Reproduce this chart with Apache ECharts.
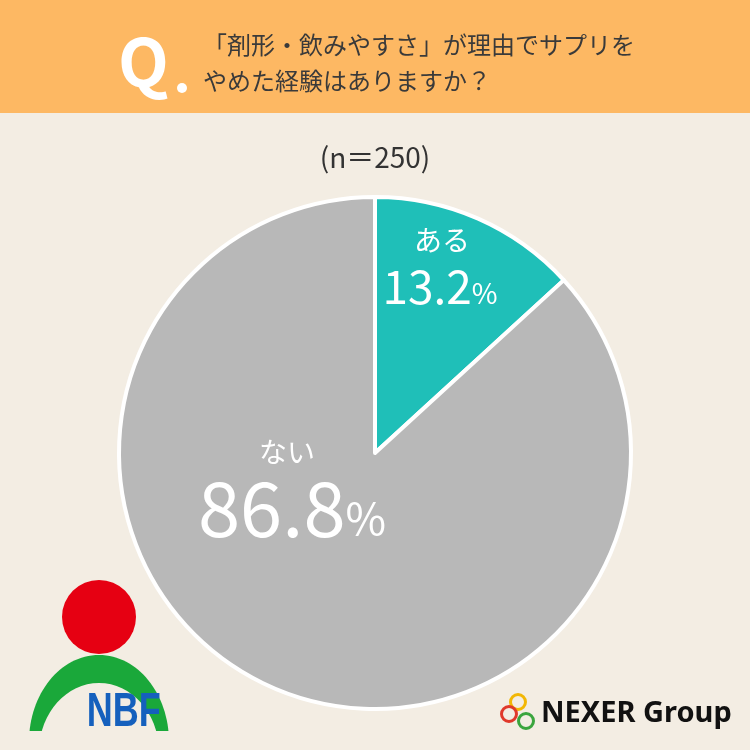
<!DOCTYPE html>
<html><head><meta charset="utf-8">
<script src="https://cdn.jsdelivr.net/npm/echarts@6/dist/echarts.min.js"></script>
<style>html,body{margin:0;padding:0;background:#f3ede3}#c{width:750px;height:750px}</style>
</head><body><div id="c"></div>
<script>
var names = ['ある', 'ない'];
var values = [13.2, 86.8];
var colors = ['#1fbfb8', '#b8b8b8'];

var chart = echarts.init(document.getElementById('c'));
var font = '"Noto Sans CJK JP", "Noto Sans", sans-serif';

var option = {
    backgroundColor: '#f3ede3',
    animation: false,
    series: [{
        type: 'pie',
        center: [375, 453],
        radius: [0, 256],
        startAngle: 90,
        clockwise: true,
        silent: true,
        itemStyle: {borderColor: '#ffffff', borderWidth: 4},
        label: {show: false},
        labelLine: {show: false},
        data: names.map(function (n, i) {
            return {name: n, value: values[i], itemStyle: {color: colors[i]}};
        })
    }],
    graphic: [
        {type: 'rect', shape: {x: 0, y: 0, width: 750, height: 113}, style: {fill: '#fdb863'}},
        {type: 'text', x: 118, y: 62, style: {text: 'Q', fill: '#fff', font: 'bold 66px ' + font, verticalAlign: 'middle'}},
        {type: 'circle', shape: {cx: 182, cy: 88, r: 5}, style: {fill: '#fff'}},
        {type: 'text', x: 203, y: 45, style: {text: '「剤形・飲みやすさ」が理由でサプリを', fill: '#3a3a3a', font: '24px ' + font, verticalAlign: 'middle'}},
        {type: 'text', x: 203, y: 81, style: {text: 'やめた経験はありますか？', fill: '#3a3a3a', font: '24px ' + font, verticalAlign: 'middle'}},
        {type: 'text', x: 375, y: 157, style: {text: '(n＝250)', fill: '#333', font: '28px ' + font, align: 'center', verticalAlign: 'middle'}},
        {type: 'text', x: 442, y: 240, z: 10, style: {text: names[0], fill: '#fff', font: '28px ' + font, align: 'center', verticalAlign: 'middle'}},
        {type: 'text', x: 440, y: 287, z: 10, style: {
            text: '{a|' + values[0].toFixed(1) + '}{b|%}', align: 'center', verticalAlign: 'middle',
            rich: {a: {fill: '#fff', font: '46px ' + font}, b: {fill: '#fff', font: '28px ' + font, padding: [12, 0, 0, 0]}}
        }},
        {type: 'text', x: 287, y: 452, z: 10, style: {text: names[1], fill: '#fff', font: '28px ' + font, align: 'center', verticalAlign: 'middle'}},
        {type: 'text', x: 292, y: 508, z: 10, style: {
            text: '{a|' + values[1].toFixed(1) + '}{b|%}', align: 'center', verticalAlign: 'middle',
            rich: {a: {fill: '#fff', font: '76px ' + font}, b: {fill: '#fff', font: '44px ' + font, padding: [20, 0, 0, 0]}}
        }},
        // NBF logo
        {type: 'ellipse', shape: {cx: 99, cy: 742, rx: 70, ry: 87}, style: {fill: '#1aa83a'}},
        {type: 'ellipse', shape: {cx: 99, cy: 752, rx: 60, ry: 69}, style: {fill: '#f3ede3'}},
        {type: 'rect', shape: {x: 20, y: 731, width: 160, height: 20}, style: {fill: '#f3ede3'}},
        {type: 'circle', shape: {cx: 99, cy: 617, r: 37}, style: {fill: '#e60012'}},
        {type: 'text', x: 99, y: 713, scaleX: 0.75, originX: 99, style: {text: 'NBF', fill: '#1560bd', font: '900 48px "Liberation Sans", sans-serif', align: 'center', verticalAlign: 'middle'}},
        // NEXER logo
        {type: 'ring', shape: {cx: 518, cy: 702, r: 9, r0: 6}, style: {fill: '#f2b705'}},
        {type: 'ring', shape: {cx: 509, cy: 714, r: 9, r0: 6}, style: {fill: '#e0392b'}},
        {type: 'ring', shape: {cx: 526, cy: 721, r: 9, r0: 6}, style: {fill: '#3aa53e'}},
        {type: 'text', x: 541, y: 714, style: {text: 'NEXER Group', fill: '#111', font: 'bold 29px "Noto Sans", sans-serif', verticalAlign: 'middle'}}
    ]
};
chart.setOption(option);
</script>
</body></html>
